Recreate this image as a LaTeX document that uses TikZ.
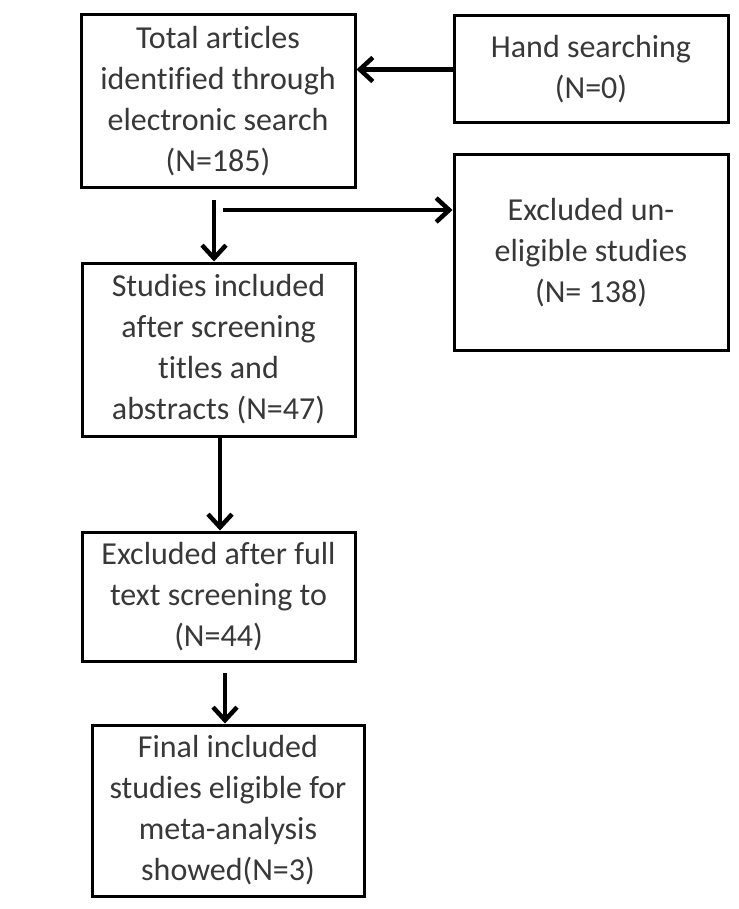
\documentclass[tikz,border=0pt]{standalone}
\usepackage{fontspec}
\setmainfont[Ligatures={NoCommon}]{Carlito}
\usetikzlibrary{arrows.meta}
\begin{document}
\begin{tikzpicture}[x=1pt,y=-1pt,
  box/.style={draw=black, line width=3pt, align=center, text=black!78,
    font=\fontsize{32}{41}\selectfont, inner sep=0pt},
  arr/.style={line width=4.5pt, -{Straight Barb[length=13pt,width=24pt]}}]
\useasboundingbox (0,0) rectangle (738,909);
\fill[white] (0,0) rectangle (738,909);
\node[box, minimum width=274pt, minimum height=173pt] (a) at (218,101.5)
  {Total articles\\identified through\\electronic search\\(N=185)};
\node[box, minimum width=274pt, minimum height=107pt] (b) at (591,69.5)
  {Hand searching\\(N=0)};
\node[box, minimum width=274pt, minimum height=195pt] (c) at (591,252.5)
  {Excluded un-\\eligible studies\\(N= 138)};
\node[box, minimum width=273pt, minimum height=173pt] (d) at (218.5,349.5)
  {Studies included\\after screening\\titles and\\abstracts (N=47)};
\node[box, minimum width=273pt, minimum height=129pt] (e) at (218.5,596.5)
  {Excluded after full\\text screening to\\(N=44)};
\node[box, minimum width=272pt, minimum height=171pt] (f) at (228,810.5)
  {Final included\\studies eligible for\\meta-analysis\\showed(N=3)};
\coordinate (h0) at (223,210);
\coordinate (v0) at (214,200);
\coordinate (e0) at (225,673);
\draw[arr] (b.west) -- (a.east |- b.west);
\draw[arr] (h0) -- (h0 -| c.west);
\draw[arr] (v0) -- (v0 |- d.north);
\draw[arr] (d.south -| 220,0) -- (e.north -| 220,0);
\draw[arr] (e0) -- (e0 |- f.north);
\end{tikzpicture}
\end{document}
